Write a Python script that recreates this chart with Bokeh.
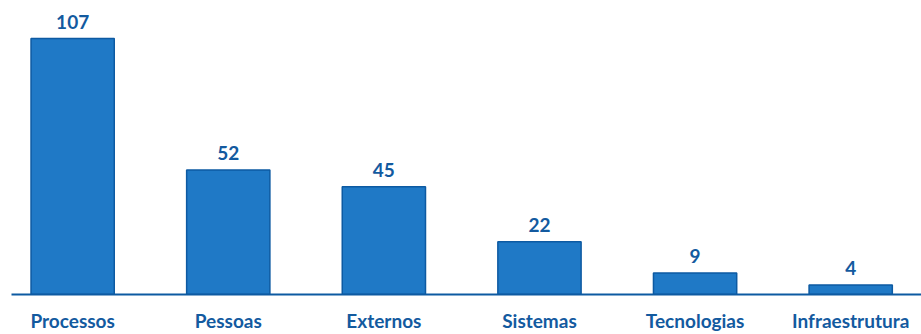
from bokeh.plotting import figure
from bokeh.models import ColumnDataSource, Range1d, FixedTicker
from bokeh.core.properties import value
from bokeh.embed import file_html
from bokeh.resources import INLINE

categories = ["Processos", "Pessoas", "Externos", "Sistemas", "Tecnologias", "Infraestrutura"]
counts = [107, 52, 45, 22, 9, 4]

FILL = "#1f79c6"
EDGE = "#0d5aa2"
TEXT = "#135a9f"
FONT = "Lato"

xs = list(range(len(categories)))
src = ColumnDataSource(dict(x=xs, top=counts, label=[str(c) for c in counts]))

p = figure(width=921, height=334, output_backend="svg", toolbar_location=None,
           x_range=Range1d(-0.393, 5.455), y_range=Range1d(0, 122.9),
           min_border_left=11, min_border_right=0, min_border_top=0, min_border_bottom=0)

p.vbar(x="x", top="top", bottom=0, width=0.535, source=src,
       fill_color=FILL, line_color=EDGE, line_width=1.5)

p.text(x="x", y="top", text="label", source=src, text_align="center",
       text_baseline="bottom", y_offset=-10,
       text_font=value(FONT), text_font_style="bold", text_font_size="19px",
       text_color=TEXT)

p.yaxis.visible = False
p.xaxis.ticker = FixedTicker(ticks=xs)
p.xaxis.major_label_overrides = {i: c for i, c in enumerate(categories)}
p.xaxis.major_tick_line_color = None
p.xaxis.minor_tick_line_color = None
p.xaxis.axis_line_color = EDGE
p.xaxis.axis_line_width = 2
p.xaxis.major_label_standoff = 8
p.xaxis.major_label_text_line_height = 0.85
p.xaxis.major_label_text_font = FONT
p.xaxis.major_label_text_font_style = "bold"
p.xaxis.major_label_text_font_size = "19px"
p.xaxis.major_label_text_color = TEXT

p.xgrid.visible = False
p.ygrid.visible = False
p.outline_line_color = None
p.background_fill_color = "white"
p.border_fill_color = "white"

open("out.html", "w").write(file_html(p, INLINE))
